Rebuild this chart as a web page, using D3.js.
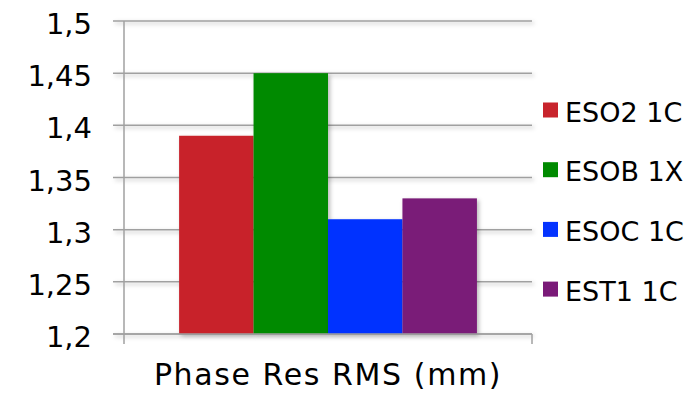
<!DOCTYPE html>
<html>
<head>
<meta charset="utf-8">
<script src="https://cdn.jsdelivr.net/npm/d3@7"></script>
<style>
  html, body { margin: 0; padding: 0; background: #fff; }
  svg { display: block; font-family: "DejaVu Sans", Verdana, sans-serif; }
</style>
</head>
<body>
<svg id="chart" width="699" height="394"></svg>
<script>
// Phase residual RMS per station, one category with four series
const category = "Phase Res RMS (mm)";
const seriesNames = ["ESO2 1C", "ESOB 1X", "ESOC 1C", "EST1 1C"];
const seriesValues = [1.39, 1.45, 1.31, 1.33];
const seriesColors = ["#C8242C", "#008A00", "#0433FF", "#7A1A78"];
const yTicks = [1.2, 1.25, 1.3, 1.35, 1.4, 1.45, 1.5];

const svg = d3.select("#chart");
const plot = { left: 124, right: 532, top: 21, bottom: 334 };

const defs = svg.append("defs");
const shadow = defs.append("filter").attr("id", "shadow")
  .attr("x", "-20%").attr("y", "-20%").attr("width", "140%").attr("height", "140%");
shadow.append("feDropShadow")
  .attr("dx", 2).attr("dy", 2).attr("stdDeviation", 2)
  .attr("flood-color", "#000").attr("flood-opacity", 0.28);

const y = d3.scaleLinear().domain([1.2, 1.5]).range([plot.bottom, plot.top]);
const xCat = d3.scaleBand().domain([category]).range([plot.left, plot.right]).paddingInner(0).paddingOuter(0.185);
const xSeries = d3.scaleBand().domain(seriesNames).range([0, xCat.bandwidth()]).padding(0);

const fmt = v => d3.format(".2~f")(v).replace(".", ",");

// horizontal gridlines with small ticks extending left of the axis
const grid = svg.append("g").attr("filter", "url(#shadow)");
grid.selectAll("line.grid").data(yTicks).join("line")
  .attr("class", "grid")
  .attr("x1", plot.left - 11).attr("x2", plot.right)
  .attr("y1", d => y(d)).attr("y2", d => y(d))
  .attr("stroke", "#a0a0a0").attr("stroke-width", 1.5);

// bars
svg.append("g").selectAll("rect").data(seriesNames).join("rect")
  .attr("x", (d) => xCat(category) + xSeries(d))
  .attr("y", (d, i) => y(seriesValues[i]))
  .attr("width", xSeries.bandwidth())
  .attr("height", (d, i) => y(1.2) - y(seriesValues[i]))
  .attr("fill", (d, i) => seriesColors[i])
  .attr("filter", "url(#shadow)");

// axes
const axes = svg.append("g").attr("stroke", "#a0a0a0").attr("stroke-width", 1.5).attr("fill", "none");
axes.append("line").attr("x1", plot.left).attr("x2", plot.left).attr("y1", plot.top).attr("y2", plot.bottom + 10);
axes.append("line").attr("x1", plot.left - 11).attr("x2", plot.right).attr("y1", plot.bottom).attr("y2", plot.bottom);
axes.append("line").attr("x1", plot.right).attr("x2", plot.right).attr("y1", plot.bottom).attr("y2", plot.bottom + 10);

// y tick labels
svg.append("g").selectAll("text").data(yTicks).join("text")
  .attr("x", 92).attr("y", d => y(d) + 13)
  .attr("text-anchor", "end")
  .attr("font-size", 29).attr("fill", "#000")
  .text(fmt);

// category label
svg.append("text")
  .attr("x", xCat(category) + xCat.bandwidth() / 2).attr("y", 385)
  .attr("text-anchor", "middle").attr("font-size", 30).attr("letter-spacing", 1.6).attr("fill", "#000")
  .text(category);

// legend
const legend = svg.append("g").selectAll("g").data(seriesNames).join("g")
  .attr("transform", (d, i) => `translate(543, ${110 + i * 59.7})`);
legend.append("rect").attr("x", 0).attr("y", -7.5).attr("width", 15).attr("height", 15)
  .attr("fill", (d, i) => seriesColors[i]);
legend.append("text").attr("x", 22).attr("y", 11.5)
  .attr("font-size", 27).attr("fill", "#000").text(d => d);
</script>
</body>
</html>
